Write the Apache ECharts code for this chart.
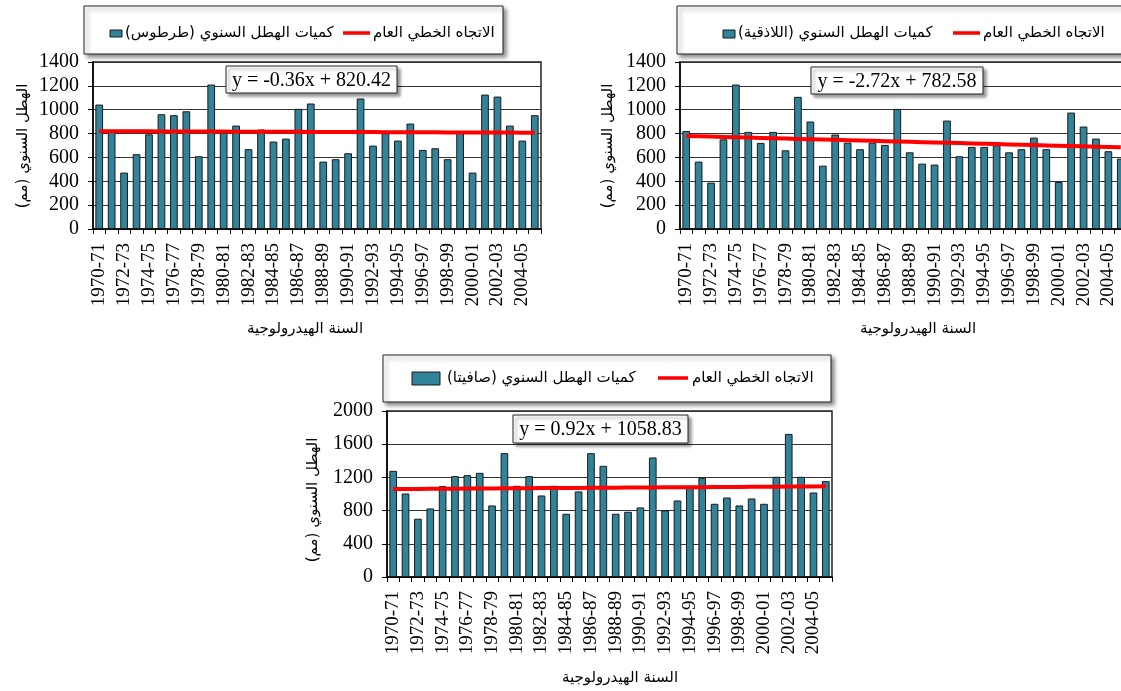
<!DOCTYPE html>
<html>
<head>
<meta charset="utf-8">
<script src="https://cdn.jsdelivr.net/npm/echarts@6/dist/echarts.min.js"></script>
<style>
  html, body { margin: 0; padding: 0; background: #fff; overflow: hidden; }
  #chart { width: 1121px; height: 691px; }
</style>
</head>
<body>
<div id="chart"></div>
<script>
// Hydrological years
const categories = [
  '1970-71','1971-72','1972-73','1973-74','1974-75','1975-76','1976-77','1977-78','1978-79','1979-80',
  '1980-81','1981-82','1982-83','1983-84','1984-85','1985-86','1986-87','1987-88','1988-89','1989-90',
  '1990-91','1991-92','1992-93','1993-94','1994-95','1995-96','1996-97','1997-98','1998-99','1999-00',
  '2000-01','2001-02','2002-03','2003-04','2004-05','2005-06'
];

// Annual rainfall (mm) per station
const tartousRain = [
  1043, 820, 473, 627, 794, 962, 954, 987, 610, 1211,
  808, 867, 669, 834, 733, 758, 1007, 1052, 565, 585,
  635, 1094, 699, 803, 741, 884, 663, 677, 585, 808,
  473, 1127, 1110, 867, 741, 954
];
const latakiaRain = [
  822, 565, 389, 752, 1211, 814, 722, 814, 660, 1108,
  901, 531, 792, 724, 669, 724, 705, 1007, 643, 548,
  540, 909, 610, 688, 688, 702, 643, 669, 766, 669,
  394, 976, 859, 758, 652, 590
];
const safitaRain = [
  1279, 1006, 702, 826, 1095, 1215, 1227, 1255, 862, 1492,
  1099, 1215, 982, 1099, 762, 1031, 1492, 1339, 762, 786,
  838, 1440, 802, 922, 1099, 1195, 882, 958, 862, 946,
  882, 1207, 1724, 1207, 1018, 1155
];

// Linear trend coefficients (y = slope * x + intercept, x = 1..36)
const trendSlopes = [-0.36, -2.72, 0.92];
const trendIntercepts = [820.42, 782.58, 1058.83];

// Value axis ranges
const axisMax = [1400, 1400, 2000];
const axisStep = [200, 200, 400];

const stationNames = ['طرطوس', 'اللاذقية', 'صافيتا'];
const rainSeries = [tartousRain, latakiaRain, safitaRain];

const RLM = '\u200F';
const trendLabel = 'الاتجاه الخطي العام';
const rainLabel = n => 'كميات الهطل السنوي (' + n + ')' + RLM;
const yTitle = 'الهطل السنوي (مم)' + RLM;
const xTitle = 'السنة الهيدرولوجية';

const serif = "'Liberation Serif', 'DejaVu Serif', serif";
const arabic = "'DejaVu Sans', sans-serif";
const barColor = '#31839A';

// panel geometry: plot areas, legend boxes, equation boxes, titles
const panels = [
  { grid: { left: 93, top: 62, width: 448, height: 167 },
    legendBox: [84, 6, 419, 48], swatch: [110, 30, 12, 7], rainText: [125, 33],
    lineSeg: [343, 370, 33], trendText: [373, 33],
    eqBox: [226, 66, 171, 27], yTitle: [23, 146], xTitle: [305, 329] },
  { grid: { left: 680, top: 62, width: 447, height: 167 },
    legendBox: [677, 6, 452, 48], swatch: [723, 30, 12, 8], rainText: [738, 33],
    lineSeg: [953, 980, 33], trendText: [983, 33],
    eqBox: [811, 67, 172, 27], yTitle: [608, 146], xTitle: [918, 329] },
  { grid: { left: 387, top: 411, width: 445, height: 166 },
    legendBox: [383, 355, 448, 47], swatch: [412, 372, 28, 13], rainText: [447, 378],
    lineSeg: [658, 688, 378], trendText: [692, 378],
    eqBox: [513, 415, 175, 28], yTitle: [313, 500], xTitle: [620, 678] }
];

const fmtEq = (m, b) => 'y = ' + m.toFixed(2) + 'x + ' + b.toFixed(2);

const grids = [], xAxes = [], yAxes = [], series = [], graphics = [];

panels.forEach((p, k) => {
  grids.push(Object.assign({
    show: true, borderColor: '#222', borderWidth: 1.5, backgroundColor: '#fff',
    containLabel: false, outerBoundsMode: 'none'
  }, p.grid));

  xAxes.push({
    type: 'category', gridIndex: k, data: categories,
    boundaryGap: true,
    axisLine: { lineStyle: { color: '#000', width: 1.5 } },
    axisTick: { show: true, interval: 0, length: 5, lineStyle: { color: '#000' } },
    axisLabel: { interval: 1, rotate: 90, margin: 14, color: '#000', fontFamily: serif, fontSize: 19 }
  });

  yAxes.push({
    type: 'value', gridIndex: k, min: 0, max: axisMax[k], interval: axisStep[k],
    axisLine: { show: true, lineStyle: { color: '#000', width: 1.5 } },
    axisTick: { show: true, length: 5, lineStyle: { color: '#000' } },
    axisLabel: { margin: 14, color: '#000', fontFamily: serif, fontSize: 20, formatter: v => String(v) },
    splitLine: { show: true, lineStyle: { color: '#333', width: 1 } }
  });

  series.push({
    type: 'bar', xAxisIndex: k, yAxisIndex: k,
    data: rainSeries[k], barWidth: '62%',
    itemStyle: { color: barColor, borderColor: '#1a1a1a', borderWidth: 1 },
    z: 2
  });

  const trend = categories.map((_, i) => +(trendSlopes[k] * (i + 1) + trendIntercepts[k]).toFixed(2));
  series.push({
    type: 'line', xAxisIndex: k, yAxisIndex: k, data: trend,
    showSymbol: false, symbol: 'none',
    lineStyle: { color: '#ff0000', width: 4 }, z: 5
  });

  // legend box
  const [lx, ly, lw, lh] = p.legendBox;
  graphics.push({
    type: 'rect', z: 50, shape: { x: lx, y: ly, width: lw, height: lh },
    style: { fill: '#fff', stroke: '#222', lineWidth: 1, shadowBlur: 4, shadowOffsetX: 3, shadowOffsetY: 3, shadowColor: 'rgba(0,0,0,0.45)' }
  });
  const [sx, sy, sw, sh] = p.swatch;
  graphics.push({
    type: 'rect', z: 51, shape: { x: sx, y: sy, width: sw, height: sh },
    style: { fill: barColor, stroke: '#1a1a1a', lineWidth: 1 }
  });
  graphics.push({
    type: 'text', z: 51, x: p.rainText[0], y: p.rainText[1],
    style: { text: rainLabel(stationNames[k]), font: '15px ' + arabic, fill: '#000', textAlign: 'left', textVerticalAlign: 'middle' }
  });
  graphics.push({
    type: 'line', z: 51, shape: { x1: p.lineSeg[0], y1: p.lineSeg[2], x2: p.lineSeg[1], y2: p.lineSeg[2] },
    style: { stroke: '#ff0000', lineWidth: 3.5 }
  });
  graphics.push({
    type: 'text', z: 51, x: p.trendText[0], y: p.trendText[1],
    style: { text: trendLabel, font: '15px ' + arabic, fill: '#000', textAlign: 'left', textVerticalAlign: 'middle' }
  });

  // trend equation label
  const [ex, ey, ew, eh] = p.eqBox;
  graphics.push({
    type: 'rect', z: 60, shape: { x: ex, y: ey, width: ew, height: eh },
    style: { fill: '#fff', stroke: '#222', lineWidth: 1, shadowBlur: 3, shadowOffsetX: 3, shadowOffsetY: 3, shadowColor: 'rgba(0,0,0,0.4)' }
  });
  graphics.push({
    type: 'text', z: 61, x: ex + ew / 2, y: ey + eh / 2 + 1,
    style: { text: fmtEq(trendSlopes[k], trendIntercepts[k]), font: '20px ' + serif, fill: '#000', textAlign: 'center', textVerticalAlign: 'middle' }
  });

  // axis titles
  graphics.push({
    type: 'text', z: 40, x: p.yTitle[0], y: p.yTitle[1], rotation: Math.PI / 2,
    style: { text: yTitle, font: '15px ' + arabic, fill: '#000', textAlign: 'center', textVerticalAlign: 'middle' }
  });
  graphics.push({
    type: 'text', z: 40, x: p.xTitle[0], y: p.xTitle[1],
    style: { text: xTitle, font: '15px ' + arabic, fill: '#000', textAlign: 'center', textVerticalAlign: 'middle' }
  });
});

const chart = echarts.init(document.getElementById('chart'), null, { renderer: 'canvas' });
chart.setOption({
  animation: false,
  backgroundColor: '#fff',
  grid: grids,
  xAxis: xAxes,
  yAxis: yAxes,
  series: series,
  graphic: graphics
});
</script>
</body>
</html>
